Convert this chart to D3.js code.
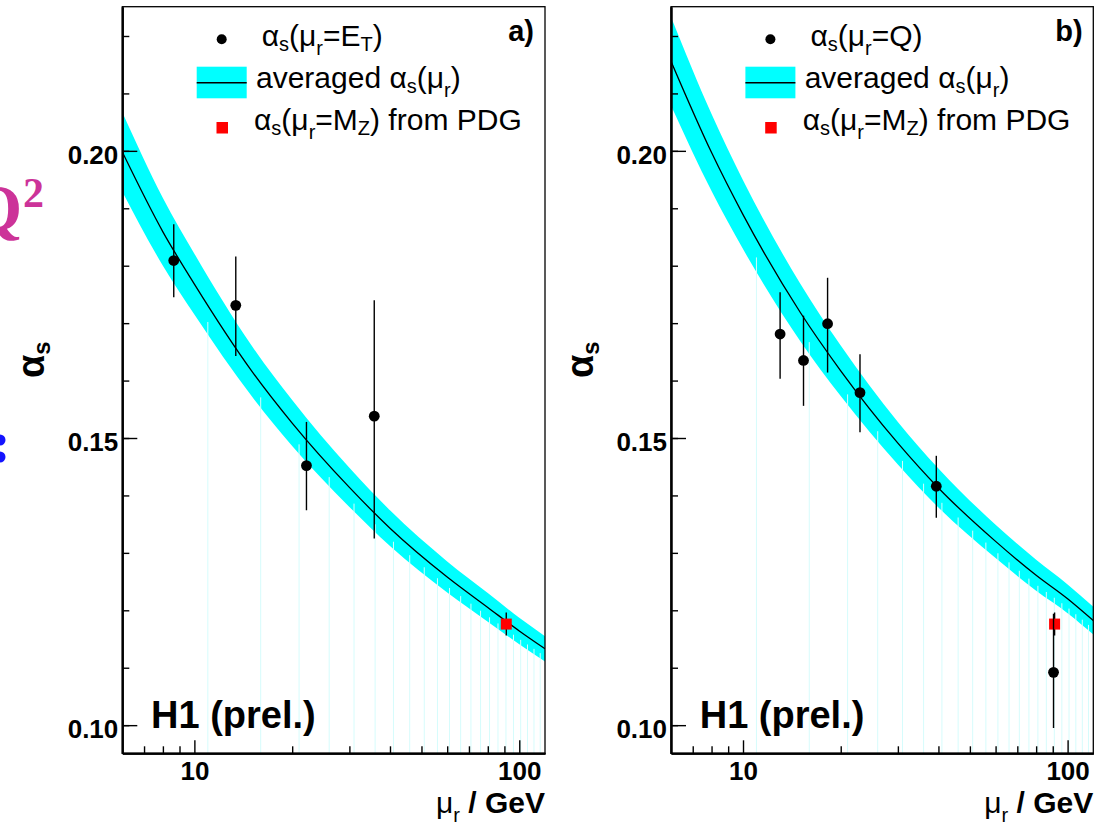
<!DOCTYPE html>
<html><head><meta charset="utf-8">
<script src="https://cdn.jsdelivr.net/npm/d3@7"></script>
<style>
body{margin:0;background:#fff}
svg{display:block}
text{font-family:"Liberation Sans",Arial,Helvetica,sans-serif}
</style>
</head><body>
<svg id="c" width="1106" height="826"></svg>
<script>
// ---- data ----
const muGrid = [6, 8, 10, 15, 20, 30, 40, 60, 80, 100, 120];
// panel a: averaged alpha_s(mu_r) and band half-width
const avgA = [0.1998, 0.1859, 0.1768, 0.1617, 0.1526, 0.1414, 0.1343, 0.1258, 0.1205, 0.1164, 0.1133];
const errA = [0.0069, 0.0059, 0.0053, 0.0044, 0.0040, 0.0034, 0.0031, 0.0027, 0.0025, 0.0023, 0.0022];
// panel b
const avgB = [0.2156, 0.1997, 0.1889, 0.1719, 0.1617, 0.1491, 0.1413, 0.1320, 0.1261, 0.1220, 0.1182];
const errB = [0.0077, 0.0067, 0.0060, 0.0050, 0.0044, 0.0037, 0.0034, 0.0029, 0.0027, 0.0025, 0.0024];
// panel a measurements alpha_s(mu_r = E_T)
const muA    = [8.64, 13.41, 22.13, 35.78];
const alphaA = [0.1809, 0.1731, 0.1452, 0.1538];
const hiA    = [0.1872, 0.1816, 0.1528, 0.1740];
const loA    = [0.1745, 0.1643, 0.1374, 0.1325];
// panel b measurements alpha_s(mu_r = Q)
const muB    = [13.01, 15.36, 18.22, 22.93, 39.4, 90.5];
const alphaB = [0.1681, 0.1635, 0.1699, 0.1579, 0.1416, 0.1092];
const hiB    = [0.1754, 0.1713, 0.1779, 0.1646, 0.1469, 0.1194];
const loB    = [0.1603, 0.1556, 0.1614, 0.1510, 0.1361, 0.0995];
// PDG value at M_Z
const pdgMu = [91.19];
const pdgAlpha = [0.1176];
const pdgHi = [0.1196];
const pdgLo = [0.1156];
// faint band-drawing lines (GeV)
const faintMu = [11, 16, 21, 26, 31, 36, 41, 46, 51, 56, 61, 66, 71, 76, 81, 86, 91, 96, 101, 106, 111, 116];
// ticks
const yMajorTicks = [0.10, 0.15, 0.20];
const yMinorTicks = [0.10, 0.11, 0.12, 0.13, 0.14, 0.15, 0.16, 0.17, 0.18, 0.19, 0.20, 0.21, 0.22];
const xMajorTicks = [10, 100];
const xMinorTicks = [7, 8, 9, 20, 30, 40, 50, 60, 70, 80, 90];

const svg = d3.select("#c");
const yTop = 6.7, yBot = 753.3;
const y = d3.scaleLinear().domain([0.0951, 0.2251]).range([yBot, yTop]);

const panels = [
  {left:122.3, right:545, avg:avgA, err:errA, mu:muA, val:alphaA, hi:hiA, lo:loA, tag:"a)"},
  {left:671, right:1093.3, avg:avgB, err:errB, mu:muB, val:alphaB, hi:hiB, lo:loB, tag:"b)"}
];

function rich(g, x, yb, parts, opts={}) {
  const t = g.append("text").attr("x", x).attr("y", yb).attr("fill", "#000");
  if (opts.anchor) t.attr("text-anchor", opts.anchor);
  let cur = 0;
  parts.forEach(p => {
    const off = p.off || 0;
    const ts = t.append("tspan").text(p.t)
      .attr("font-size", p.size)
      .attr("dy", off - cur);
    if (p.bold) ts.attr("font-weight", "bold");
    cur = off;
  });
  return t;
}

const L = 30, S = 20;

panels.forEach((p, pi) => {
  const x = d3.scaleLog().domain([6, 120]).range([p.left, p.right]);
  const ox = p.left - 122.3;
  const g = svg.append("g");
  const cid = "clip" + pi;
  svg.append("clipPath").attr("id", cid).append("rect")
    .attr("x", p.left).attr("y", yTop).attr("width", p.right - p.left).attr("height", yBot - yTop);

  const band = muGrid.map((m, i) => ({mu: m, avg: p.avg[i], err: p.err[i]}));
  const pg = g.append("g").attr("clip-path", `url(#${cid})`);
  pg.append("path")
    .attr("d", d3.area().x(d => x(d.mu)).y0(d => y(d.avg - d.err)).y1(d => y(d.avg + d.err)).curve(d3.curveMonotoneX)(band))
    .attr("fill", "#00ffff");
  const avgAt = d3.scaleLog().domain(muGrid).range(p.avg);
  const errAt = d3.scaleLog().domain(muGrid).range(p.err);
  pg.selectAll("line.faint").data(faintMu).join("line")
    .attr("x1", d => x(d)).attr("x2", d => x(d))
    .attr("y1", d => y(avgAt(d) - 0.6 * errAt(d))).attr("y2", yBot)
    .attr("stroke", "#d6fcfc").attr("stroke-width", 1);
  pg.append("path")
    .attr("d", d3.line().x(d => x(d.mu)).y(d => y(d.avg)).curve(d3.curveMonotoneX)(band))
    .attr("fill", "none").attr("stroke", "#000").attr("stroke-width", 1.3);

  // PDG point
  pg.selectAll("line.pdg").data(pdgMu).join("line")
    .attr("x1", d => x(d)).attr("x2", d => x(d))
    .attr("y1", (d, i) => y(pdgHi[i])).attr("y2", (d, i) => y(pdgLo[i]))
    .attr("stroke", "#000").attr("stroke-width", 1.4);
  pg.selectAll("rect.pdg").data(pdgMu).join("rect")
    .attr("x", d => x(d) - 5.5).attr("y", (d, i) => y(pdgAlpha[i]) - 5.5)
    .attr("width", 11).attr("height", 11).attr("fill", "#ff0000");

  // measurements
  pg.selectAll("line.err").data(p.mu).join("line")
    .attr("x1", d => x(d)).attr("x2", d => x(d))
    .attr("y1", (d, i) => y(p.hi[i])).attr("y2", (d, i) => y(p.lo[i]))
    .attr("stroke", "#000").attr("stroke-width", 1.4);
  pg.selectAll("circle.pt").data(p.mu).join("circle")
    .attr("cx", d => x(d)).attr("cy", (d, i) => y(p.val[i])).attr("r", 5.4).attr("fill", "#000");

  // frame
  g.append("rect").attr("x", p.left).attr("y", yTop).attr("width", p.right - p.left).attr("height", yBot - yTop)
    .attr("fill", "none").attr("stroke", "#000").attr("stroke-width", 1.3);

  // axes
  const styleAx = a => {
    a.attr("font-size", null).attr("font-family", null);
    a.select(".domain").attr("stroke-width", 2);
    a.selectAll(".tick line").attr("stroke-width", 1.4);
    a.selectAll("text").attr("font-size", 26).attr("font-weight", "bold").attr("fill", "#000");
  };
  const ay1 = g.append("g").attr("transform", `translate(${p.left},0)`)
    .call(d3.axisLeft(y).tickValues(yMinorTicks).tickSize(-7).tickSizeOuter(0).tickFormat(""));
  styleAx(ay1);
  const ay2 = g.append("g").attr("transform", `translate(${p.left},0)`)
    .call(d3.axisLeft(y).tickValues(yMajorTicks).tickSize(-15).tickSizeOuter(0).tickPadding(4).tickFormat(d3.format(".2f")));
  styleAx(ay2);
  ay2.selectAll("text").attr("dy", "0.48em");
  const ax1 = g.append("g").attr("transform", `translate(0,${yBot})`)
    .call(d3.axisBottom(x).tickValues(xMinorTicks).tickSize(-7).tickSizeOuter(0).tickFormat(""));
  styleAx(ax1);
  const ax2 = g.append("g").attr("transform", `translate(0,${yBot})`)
    .call(d3.axisBottom(x).tickValues(xMajorTicks).tickSize(-13).tickSizeOuter(0).tickPadding(8).tickFormat(d3.format("d")));
  styleAx(ax2);

  // axis titles
  rich(g, p.right, 813, [
    {t:"μ", size:30},
    {t:"r", size:20, off:9},
    {t:" / GeV", size:30, bold:true, off:0}
  ], {anchor:"end"});
  const yt = g.append("g").attr("transform", `translate(${44 + ox},378) rotate(-90)`);
  rich(yt, 0, 0, [
    {t:"α", size:38, bold:true},
    {t:"s", size:24, bold:true, off:6}
  ]);

  // H1 label and panel tag
  g.append("text").attr("x", 151 + ox).attr("y", 728).attr("font-size", 38).attr("font-weight", "bold").text("H1 (prel.)");
  g.append("text").attr("x", 534 + ox).attr("y", 41).attr("text-anchor", "end")
    .attr("font-size", 29).attr("font-weight", "bold").text(p.tag);

  // legend
  g.append("circle").attr("cx", 221.7 + ox).attr("cy", 39.3).attr("r", 5).attr("fill", "#000");
  const row1 = [
    {t:"α", size:L}, {t:"s", size:S, off:5}, {t:"(", size:L, off:0},
    {t:"μ", size:L}, {t:"r", size:S, off:9}
  ];
  if (pi === 0) row1.push({t:"=E", size:L, off:0}, {t:"T", size:S, off:5}, {t:")", size:L, off:0});
  else row1.push({t:"=Q)", size:L, off:0});
  rich(g, 261.7 + ox, 46, row1);

  g.append("rect").attr("x", 196.7 + ox).attr("y", 66.7).attr("width", 50).attr("height", 31.6).attr("fill", "#00ffff");
  g.append("line").attr("x1", 196.7 + ox).attr("x2", 246.7 + ox).attr("y1", 82.7).attr("y2", 82.7)
    .attr("stroke", "#000").attr("stroke-width", 1.4);
  rich(g, 256 + ox, 88, [
    {t:"averaged ", size:L}, {t:"α", size:L}, {t:"s", size:S, off:5}, {t:"(", size:L, off:0},
    {t:"μ", size:L}, {t:"r", size:S, off:9}, {t:")", size:L, off:0}
  ]);

  g.append("rect").attr("x", 216.5 + ox).attr("y", 122).attr("width", 11.5).attr("height", 11.5).attr("fill", "#ff0000");
  rich(g, 254 + ox, 130, [
    {t:"α", size:L}, {t:"s", size:S, off:5}, {t:"(", size:L, off:0},
    {t:"μ", size:L}, {t:"r", size:S, off:9}, {t:"=M", size:L, off:0},
    {t:"Z", size:S, off:5}, {t:") from PDG", size:L, off:0}
  ]);
});

// cropped slide decorations at left edge
svg.append("text").attr("x", 22).attr("y", 230).attr("text-anchor", "end")
  .attr("font-weight", "bold").attr("font-size", 66).attr("fill", "#cc3399")
  .style("font-family", "'Liberation Serif','DejaVu Serif',serif").text("Q");
svg.append("text").attr("x", 23).attr("y", 207)
  .attr("font-weight", "bold").attr("font-size", 42).attr("fill", "#cc3399")
  .style("font-family", "'Liberation Serif','DejaVu Serif',serif").text("2");
svg.append("circle").attr("cx", 0).attr("cy", 440).attr("r", 5.5).attr("fill", "#1414ff");
svg.append("circle").attr("cx", 0).attr("cy", 457).attr("r", 5.5).attr("fill", "#1414ff");
</script>
</body></html>
